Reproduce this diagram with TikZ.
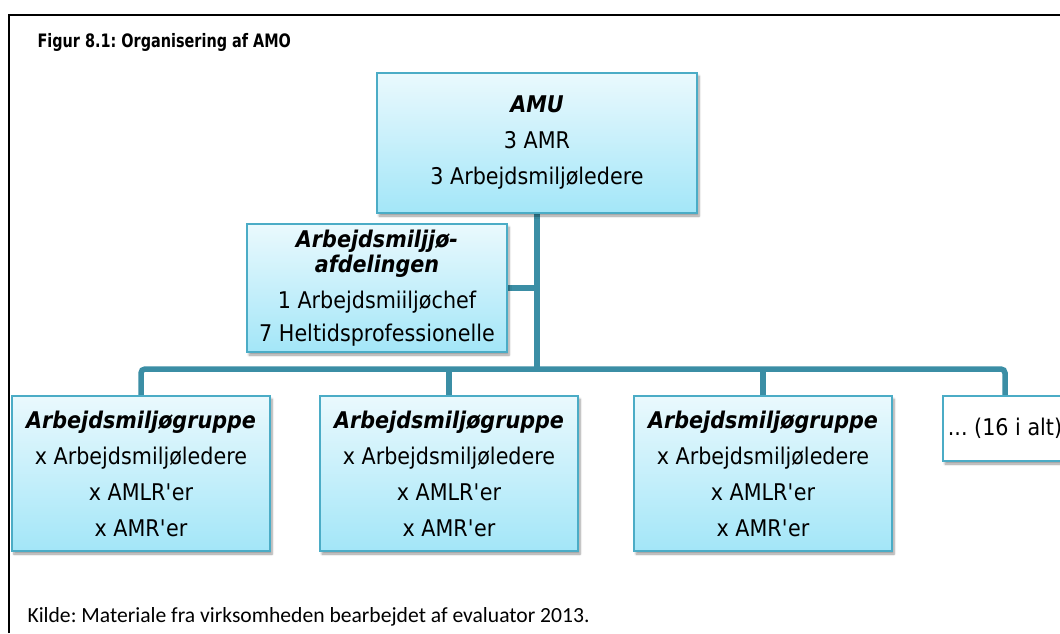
\documentclass[tikz,border=0pt]{standalone}
\usepackage{fontspec}
\setmainfont{DejaVu Sans}[FakeStretch=0.9]
\newfontfamily\titlefont{DejaVu Sans}[FakeStretch=0.78]
\newfontfamily\kildefont{Carlito}
\usetikzlibrary{shadows.blur}
\definecolor{boxline}{HTML}{4BACC6}
\definecolor{conncol}{HTML}{3B8EA5}
\definecolor{filltop}{HTML}{EAF9FD}
\definecolor{fillbot}{HTML}{A3E6F8}
\newcommand\hd[1]{\textbf{\textit{#1}}}
\pgfdeclarelayer{bg}
\pgfsetlayers{bg,main}
\frenchspacing
\begin{document}
\begin{tikzpicture}[x=1pt,y=-1pt,
  shadowed/.style={blur shadow={shadow xshift=2pt, shadow yshift=-3pt, shadow blur steps=6, shadow opacity=40}},
  orgbox/.style={draw=boxline, line width=2pt, top color=filltop, bottom color=fillbot, align=center, inner sep=0pt, shadowed, txt},
  plainbox/.style={draw=boxline, line width=2pt, fill=white, align=center, inner sep=0pt, shadowed, txt},
  conn/.style={draw=conncol, line width=5.5pt},
  txt/.style={font=\fontsize{23}{36}\selectfont}]
\useasboundingbox (0,0) rectangle (1060,633);
\draw[line width=2pt] (8.5,633) -- (8.5,14.5) -- (1060,14.5);
\node[anchor=base west, font=\titlefont\bfseries\fontsize{18.5}{21}\selectfont] (title) at (34,47) {Figur 8.1: Organisering af AMO};
\node[orgbox, minimum width=320pt, minimum height=140pt] (amu) at (537,143)
  {\hd{AMU}\\ 3 AMR\\ 3 Arbejdsmiljøledere};
\node[orgbox, minimum width=260pt, minimum height=128pt] (afd) at (377,288)
  {\hd{Arbejdsmiljjø-}\\[-11pt]\hd{afdelingen}\\ 1 Arbejdsmiiljøchef\\[-3pt] 7 Heltidsprofessionelle};
\node[orgbox, minimum width=258pt, minimum height=155pt] (g1) at (141,473.5)
  {\hd{Arbejdsmiljøgruppe}\\ x Arbejdsmiljøledere\\ x AMLR\textquotesingle er\\ x AMR\textquotesingle er};
\node[orgbox, minimum width=258pt, minimum height=155pt] (g2) at (449,473.5)
  {\hd{Arbejdsmiljøgruppe}\\ x Arbejdsmiljøledere\\ x AMLR\textquotesingle er\\ x AMR\textquotesingle er};
\node[orgbox, minimum width=258pt, minimum height=155pt] (g3) at (763,473.5)
  {\hd{Arbejdsmiljøgruppe}\\ x Arbejdsmiljøledere\\ x AMLR\textquotesingle er\\ x AMR\textquotesingle er};
\node[plainbox, minimum width=124pt, minimum height=65pt] (g4) at (1005,428.5) {... (16 i alt)};
\node[anchor=base west, font=\kildefont\fontsize{21.6}{26}\selectfont] (src) at (24,622)
  {Kilde: Materiale fra virksomheden bearbejdet af evaluator 2013.};
\coordinate (bus) at (537,369);
\begin{pgfonlayer}{bg}
\draw[conn] (amu.south) -- (bus);
\draw[conn] (afd.east) -- (afd.east -| bus);
\draw[conn, rounded corners=4pt] (g1.north) |- (bus) -| (g4.north);
\draw[conn] (g2.north) -- (g2.north |- bus);
\draw[conn] (g3.north) -- (g3.north |- bus);
\end{pgfonlayer}
\end{tikzpicture}
\end{document}
